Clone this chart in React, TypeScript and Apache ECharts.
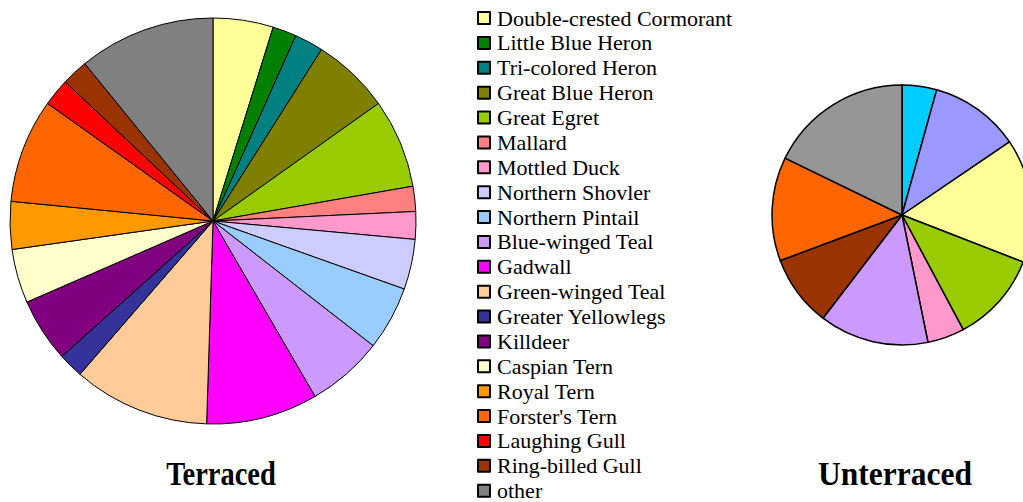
import React, { useEffect, useRef } from "react";
import * as echarts from "echarts";

const categories = [
  "Double-crested Cormorant",
  "Little Blue Heron",
  "Tri-colored Heron",
  "Great Blue Heron",
  "Great Egret",
  "Mallard",
  "Mottled Duck",
  "Northern Shovler",
  "Northern Pintail",
  "Blue-winged Teal",
  "Gadwall",
  "Green-winged Teal",
  "Greater Yellowlegs",
  "Killdeer",
  "Caspian Tern",
  "Royal Tern",
  "Forster's Tern",
  "Laughing Gull",
  "Ring-billed Gull",
  "other",
];

const categoryColors = [
  "#FFFF99", "#008000", "#008080", "#808000", "#99CC00",
  "#FF8080", "#FF99CC", "#CCCCFF", "#99CCFF", "#CC99FF",
  "#FF00FF", "#FFCC99", "#333399", "#800080", "#FFFFCC",
  "#FF9900", "#FF6600", "#FF0000", "#993300", "#808080",
];

// percent of observations, terraced
const terracedValues = [
  4.8, 1.9, 2.3, 6.2, 7.1, 2.0, 2.2, 4.0, 5.1, 6.1,
  8.9, 10.9, 2.0, 5.1, 4.3, 3.8, 8.3, 2.2, 2.1, 10.9,
];

// unterraced
const unterracedCategories = [
  "Unlisted 1",
  "Unlisted 2",
  "Double-crested Cormorant",
  "Great Egret",
  "Mottled Duck",
  "Blue-winged Teal",
  "Ring-billed Gull",
  "Forster's Tern",
  "other",
];
const unterracedColors = [
  "#00CCFF", "#9999FF", "#FFFF99", "#99CC00", "#FF99CC",
  "#CC99FF", "#993300", "#FF6600", "#969696",
];
const unterracedValues = [4.3, 11.2, 15.4, 11.3, 4.6, 13.6, 8.9, 12.9, 17.8];

const titles = ["Terraced", "Unterraced"];

export default function App() {
  const ref = useRef<HTMLDivElement>(null);
  useEffect(() => {
    if (!ref.current) return;
    const chart = echarts.init(ref.current, undefined, { renderer: "svg" });
    const font = "'Liberation Serif', 'Times New Roman', serif";
    chart.setOption({
      animation: false,
      backgroundColor: "#fff",
      legend: {
        orient: "vertical",
        left: 477,
        top: 7,
        height: 495,
        padding: 0,
        itemWidth: 12,
        itemHeight: 12,
        itemGap: 2.88,
        icon: "rect",
        selectedMode: false,
        data: categories,
        textStyle: { fontFamily: font, fontSize: 22, lineHeight: 22, color: "#000", padding: [0, 0, 0, 2] },
      },
      graphic: [
        {
          type: "text",
          x: 221,
          y: 474,
          scaleY: 1.18,
          style: { text: titles[0], font: `bold 28.5px ${font}`, fill: "#000", textAlign: "center", textVerticalAlign: "middle" },
        },
        {
          type: "text",
          x: 895,
          y: 474,
          scaleY: 1.04,
          style: { text: titles[1], font: `bold 31.5px ${font}`, fill: "#000", textAlign: "center", textVerticalAlign: "middle" },
        },
      ],
      series: [
        {
          type: "pie",
          center: [213, 221],
          radius: 203,
          startAngle: 90,
          clockwise: true,
          label: { show: false },
          labelLine: { show: false },
          emphasis: { disabled: true },
          itemStyle: { borderColor: "#000", borderWidth: 1 },
          data: categories.map((name, i) => ({
            name,
            value: terracedValues[i],
            itemStyle: { color: categoryColors[i] },
          })),
        },
        {
          type: "pie",
          center: [902, 215],
          radius: 130,
          startAngle: 90,
          clockwise: true,
          label: { show: false },
          labelLine: { show: false },
          emphasis: { disabled: true },
          itemStyle: { borderColor: "#000", borderWidth: 1.5 },
          data: unterracedCategories.map((name, i) => ({
            name,
            value: unterracedValues[i],
            itemStyle: { color: unterracedColors[i] },
          })),
        },
      ],
    });
    return () => chart.dispose();
  }, []);
  return (
    <div
      ref={ref}
      style={{ position: "fixed", left: 0, top: 0, width: 1023, height: 502 }}
    />
  );
}
